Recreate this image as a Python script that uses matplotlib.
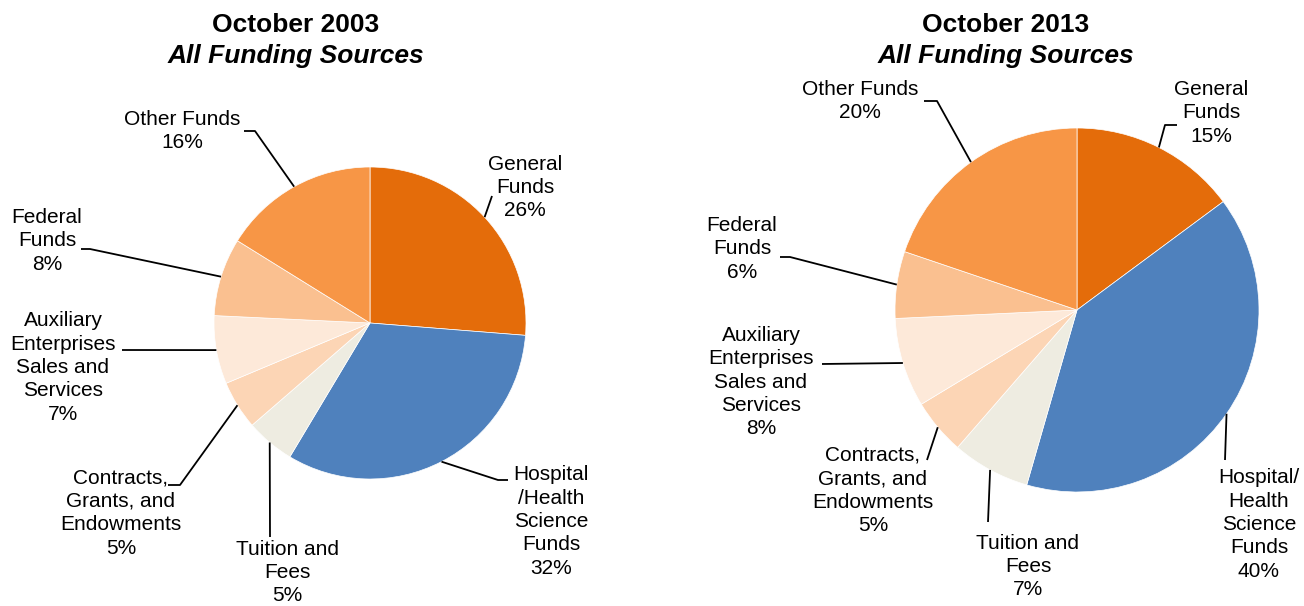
import numpy as np
import matplotlib
matplotlib.use("Agg")
import matplotlib.pyplot as plt

plt.rcParams['font.family'] = ['Liberation Sans', 'DejaVu Sans']

# data
categories = ["General Funds", "Hospital/Health Science Funds", "Tuition and Fees",
              "Contracts, Grants, and Endowments", "Auxiliary Enterprises Sales and Services",
              "Federal Funds", "Other Funds"]
share_2003 = [26, 32, 5, 5, 7, 8, 16]
share_2013 = [15, 40, 7, 5, 8, 6, 20]
labels_2003 = ["General\nFunds", "Hospital\n/Health\nScience\nFunds", "Tuition and\nFees",
               "Contracts,\nGrants, and\nEndowments", "Auxiliary\nEnterprises\nSales and\nServices",
               "Federal\nFunds", "Other Funds"]
labels_2013 = ["General\nFunds", "Hospital/\nHealth\nScience\nFunds", "Tuition and\nFees",
               "Contracts,\nGrants, and\nEndowments", "Auxiliary\nEnterprises\nSales and\nServices",
               "Federal\nFunds", "Other Funds"]
colors = ["#E46C0A", "#4F81BD", "#EEECE1", "#FCD5B5", "#FDE9D9", "#FAC090", "#F79646"]

W, H = 1304, 606

# layout in pixels (x, y from top)
pie_2003 = dict(center=(370, 323), radius=156, title_x=296)
pie_2013 = dict(center=(1077, 310), radius=182, title_x=1006)
# label text center (x, y) and leader path after the wedge edge point
lay_2003 = [((525, 187.5), [(492, 196)]),
            ((551, 521.5), [(498, 480), (508, 480)]),
            ((287, 572.5), [(270, 537)]),
            ((121, 513), [(180, 485), (168, 485)]),
            ((63, 367.5), [(122, 350)]),
            ((47, 241), [(90, 249), (81, 249)]),
            ((182, 131), [(255, 131), (244, 131)])]
lay_2013 = [((1211, 113), [(1165, 125), (1177, 125)]),
            ((1259, 524.5), [(1225, 460)]),
            ((1028, 566.5), [(988, 522)]),
            ((873, 490.5), [(927, 460)]),
            ((761, 382), [(822, 364)]),
            ((742, 249), [(790, 257), (780, 257)]),
            ((860, 101), [(937, 101), (924, 101)])]

fig = plt.figure(figsize=(W / 100, H / 100), dpi=100)
ax = fig.add_axes([0, 0, 1, 1])


def draw(vals, names, spec, lay, year):
    cx, cy = spec['center']
    wedges, _ = ax.pie(vals, colors=colors, startangle=90, counterclock=False,
                       center=(cx, H - cy), radius=spec['radius'],
                       wedgeprops=dict(edgecolor='white', linewidth=0.5))
    for w, v, name, ((tx, ty), path) in zip(wedges, vals, names, lay):
        mid = np.deg2rad((w.theta1 + w.theta2) / 2)
        ex = w.center[0] + w.r * np.cos(mid)
        ey = w.center[1] + w.r * np.sin(mid)
        xs = [ex] + [p[0] for p in path]
        ys = [ey] + [H - p[1] for p in path]
        ax.plot(xs, ys, color='black', lw=1.3, solid_capstyle='butt')
        ax.text(tx, H - ty, f"{name}\n{v}%", ha='center', va='center',
                fontsize=15, linespacing=1.29)
    ax.text(spec['title_x'], H - 25, f"October {year}", ha='center', va='center',
            fontsize=19, fontweight='bold')
    ax.text(spec['title_x'], H - 56, "All Funding Sources", ha='center', va='center',
            fontsize=19, fontweight='bold', fontstyle='italic')


draw(share_2003, labels_2003, pie_2003, lay_2003, 2003)
draw(share_2013, labels_2013, pie_2013, lay_2013, 2013)

ax.set_xlim(0, W)
ax.set_ylim(0, H)
ax.set_aspect('equal')
ax.axis('off')

fig.savefig("out.png", dpi=100, facecolor='white')
